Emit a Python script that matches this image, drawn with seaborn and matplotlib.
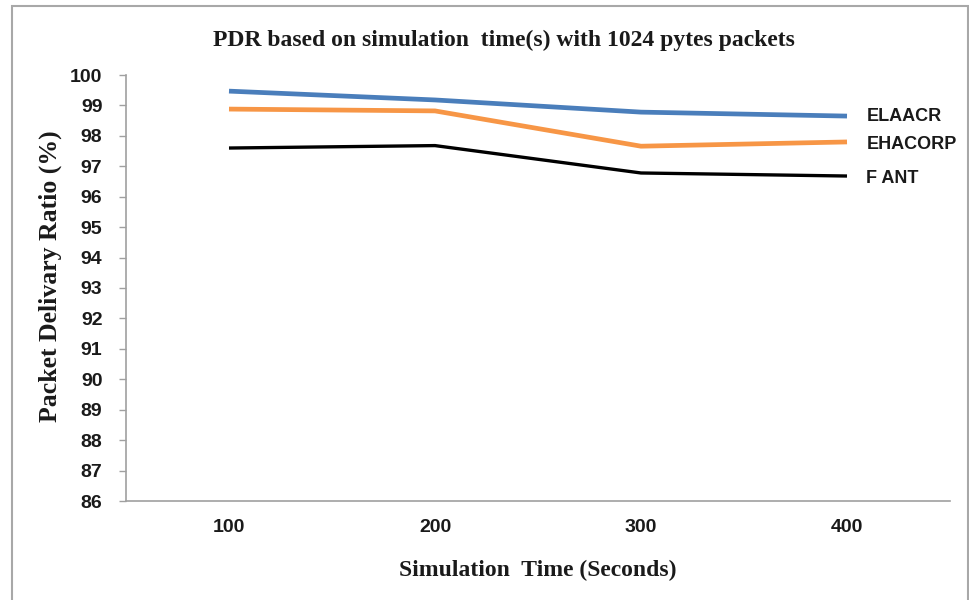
import matplotlib
matplotlib.use("Agg")
import matplotlib.pyplot as plt
import seaborn as sns
import pandas as pd
from matplotlib.patches import Rectangle

# ---- data ----
sim_times = ["100", "200", "300", "400"]
elaacr = [99.47, 99.18, 98.78, 98.65]
ehacorp = [98.88, 98.82, 97.66, 97.80]
fant = [97.60, 97.68, 96.78, 96.68]
series_names = ["ELAACR", "EHACORP", "F ANT"]
y_ticks = list(range(86, 101))

colors = {"ELAACR": "#4a7ebb", "EHACORP": "#f79646", "F ANT": "#000000"}
widths = {"ELAACR": 3.4, "EHACORP": 3.4, "F ANT": 2.4}
label_dy = {"ELAACR": 0, "EHACORP": -1.5, "F ANT": -1.5}

rows = []
for name, vals in zip(series_names, [elaacr, ehacorp, fant]):
    for i, v in enumerate(vals):
        rows.append({"pos": i, "time": sim_times[i], "value": v, "series": name})
df = pd.DataFrame(rows)

sns.set_theme(style="white")
plt.rcParams["font.family"] = ["Liberation Sans", "DejaVu Sans"]
serif = ["Liberation Serif", "DejaVu Serif"]

fig = plt.figure(figsize=(9.7, 6.0), dpi=100)
ax = fig.add_axes([126/970, 1-501/600, (950-126)/970, (501-75)/600])

for name in series_names:
    sub = df[df["series"] == name]
    sns.lineplot(data=sub, x="pos", y="value", ax=ax, color=colors[name],
                 linewidth=widths[name], legend=False, solid_capstyle="butt",
                 solid_joinstyle="miter")
    ax.annotate(name, xy=(sub["pos"].iloc[-1], sub["value"].iloc[-1]),
                xytext=(14, label_dy[name]), textcoords="offset points", va="center",
                ha="left", fontsize=13, fontweight="bold", color="#1a1a1a")

ax.set_xlim(-0.5, len(sim_times) - 0.5)
ax.set_ylim(86, 100)
ax.set_yticks(y_ticks)
ax.set_yticklabels([str(t) for t in y_ticks], fontsize=14, fontweight="bold", color="#1a1a1a")

# category boundaries as major ticks, labels at centers via minor ticks
ax.set_xticks([i - 0.5 for i in range(len(sim_times) + 1)])
ax.set_xticklabels([""] * (len(sim_times) + 1))
ax.set_xticks(range(len(sim_times)), minor=True)
ax.set_xticklabels(sim_times, minor=True, fontsize=14, fontweight="bold", color="#1a1a1a")
ax.tick_params(axis="x", which="major", direction="out", length=7, width=1, color="#a0a0a0")
ax.tick_params(axis="x", which="minor", length=0, pad=13)
ax.tick_params(axis="y", which="major", direction="out", length=5, width=1, color="#a0a0a0", pad=12, left=True)

for s in ["top", "right"]:
    ax.spines[s].set_visible(False)
for s in ["left", "bottom"]:
    ax.spines[s].set_color("#a0a0a0")
    ax.spines[s].set_linewidth(1.2)

ax.set_xlabel("Simulation  Time (Seconds)", fontsize=17, fontweight="bold",
              family=serif, labelpad=17, color="#1a1a1a")
ax.set_ylabel("Packet Delivary Ratio (%)", fontsize=18.5, fontweight="bold",
              family=serif, color="#1a1a1a", va="center")
ax.yaxis.set_label_coords((50 - 126) / 824, (501 - 276) / 426)

fig.text(504/970, 1-40/600, "PDR based on simulation  time(s) with 1024 pytes packets",
         ha="center", va="center", fontsize=17, fontweight="bold",
         family=serif, color="#1a1a1a")

fig.patches.append(Rectangle((12/970, -0.02), (968-12)/970, 1.02 - 6/600,
                             transform=fig.transFigure, fill=False,
                             edgecolor="#a8a8a8", linewidth=1.5))

fig.savefig("out.png", dpi=100)
